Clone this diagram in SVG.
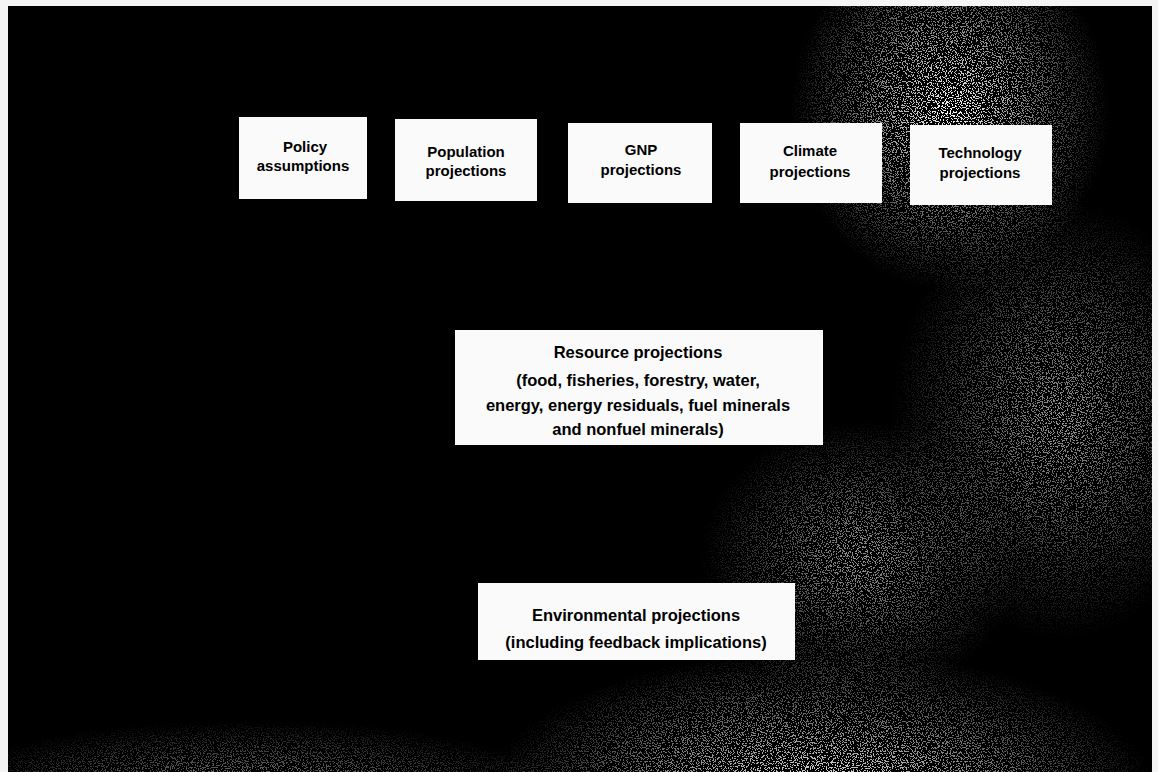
<svg xmlns="http://www.w3.org/2000/svg" width="1158" height="772" viewBox="0 0 1158 772">
<defs>
<style>
.box{fill:#fafafa;}
.t{font-family:"Liberation Sans",Arial,sans-serif;font-weight:bold;fill:#000;text-anchor:middle;}
.s15{font-size:15px;}
.s16{font-size:16.5px;}
</style>
<filter id="speck" x="0" y="0" width="100%" height="100%" filterUnits="userSpaceOnUse">
<feTurbulence type="fractalNoise" baseFrequency="0.8" numOctaves="2" seed="7" result="n"/>
<feColorMatrix type="matrix" values="0 0 0 0 1  0 0 0 0 1  0 0 0 0 1  2.2 0 0 0 -0.75"/>
<feComponentTransfer><feFuncA type="discrete" tableValues="0 0 1 1"/></feComponentTransfer>
</filter>
<radialGradient id="g1" cx="0.5" cy="0.5" r="0.5">
<stop offset="0" stop-color="#fff" stop-opacity="1"/>
<stop offset="1" stop-color="#fff" stop-opacity="0"/>
</radialGradient>
<radialGradient id="g2" cx="0.5" cy="0.5" r="0.5">
<stop offset="0" stop-color="#fff" stop-opacity="0.6"/>
<stop offset="1" stop-color="#fff" stop-opacity="0"/>
</radialGradient>
<mask id="m" maskUnits="userSpaceOnUse" x="0" y="0" width="1158" height="772">
<rect width="1158" height="772" fill="#000"/>
<ellipse cx="950" cy="110" rx="160" ry="180" fill="url(#g1)"/>
<ellipse cx="1060" cy="420" rx="170" ry="220" fill="url(#g2)"/>
<ellipse cx="860" cy="560" rx="160" ry="140" fill="url(#g2)"/>
<ellipse cx="820" cy="800" rx="340" ry="150" fill="url(#g1)"/>
<ellipse cx="250" cy="800" rx="330" ry="80" fill="url(#g2)"/>
</mask>
</defs>
<rect width="1158" height="772" fill="#f4f4f4"/>
<rect x="8" y="6" width="1144" height="766" fill="#000"/>
<rect x="8" y="6" width="1144" height="766" fill="#fff" filter="url(#speck)" mask="url(#m)"/>
<g id="policy">
<rect class="box" x="239" y="117" width="128" height="82"/>
<text class="t s15" x="305" y="152">Policy</text>
<text class="t s15" x="303" y="171">assumptions</text>
</g>
<g id="population">
<rect class="box" x="395" y="119" width="142" height="82"/>
<text class="t s15" x="466" y="157">Population</text>
<text class="t s15" x="466" y="176">projections</text>
</g>
<g id="gnp">
<rect class="box" x="568" y="123" width="144" height="80"/>
<text class="t s15" x="641" y="155">GNP</text>
<text class="t s15" x="641" y="175">projections</text>
</g>
<g id="climate">
<rect class="box" x="740" y="123" width="142" height="80"/>
<text class="t s15" x="810" y="156">Climate</text>
<text class="t s15" x="810" y="177">projections</text>
</g>
<g id="technology">
<rect class="box" x="910" y="125" width="142" height="80"/>
<text class="t s15" x="980" y="158">Technology</text>
<text class="t s15" x="980" y="178">projections</text>
</g>
<g id="resource">
<rect class="box" x="455" y="330" width="368" height="115"/>
<text class="t s16" x="638" y="358">Resource projections</text>
<text class="t s16" x="638" y="386">(food, fisheries, forestry, water,</text>
<text class="t s16" x="638" y="411">energy, energy residuals, fuel minerals</text>
<text class="t s16" x="638" y="435">and nonfuel minerals)</text>
</g>
<g id="environmental">
<rect class="box" x="478" y="583" width="317" height="77"/>
<text class="t s16" x="636" y="621">Environmental projections</text>
<text class="t s16" x="636" y="648">(including feedback implications)</text>
</g>
<g id="connectors"></g>
</svg>
